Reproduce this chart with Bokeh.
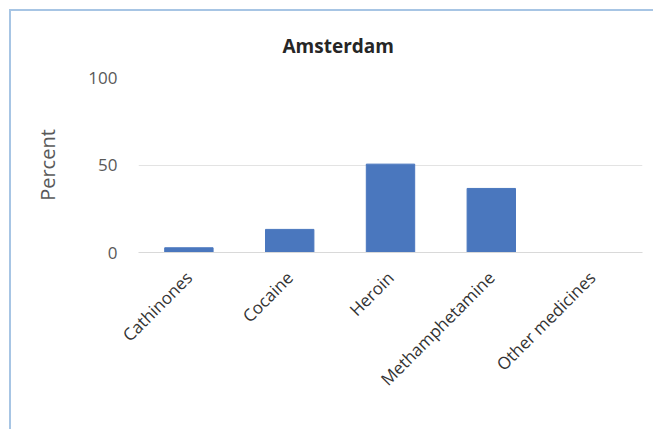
import math
from bokeh.plotting import figure
from bokeh.models import FixedTicker, ColumnDataSource
from bokeh.embed import file_html
from bokeh.resources import INLINE

categories = ["Cathinones", "Cocaine", "Heroin", "Methamphetamine", "Other medicines"]
percent = [2.7, 13.2, 50.5, 36.6, 0.0]
y_ticks = [0, 50, 100]

FONT = "Open Sans"
src = ColumnDataSource(data=dict(cat=categories, val=percent))

p = figure(x_range=categories, y_range=(0, 100), width=644, height=420,
           output_backend="svg", toolbar_location=None,
           min_border_left=127, min_border_right=13, min_border_top=66, min_border_bottom=179)
p.margin = (9, 0, 0, 9)
p.styles = {"border-left": "2px solid #a7c5e4", "border-top": "2px solid #a7c5e4"}

p.vbar(x="cat", top="val", width=0.48, source=src, color="#4a77be")

p.title.text = "Amsterdam"
p.title.align = "left"
p.title.offset = 144
p.title.text_font = FONT
p.title.text_font_size = "19px"
p.title.text_font_style = "bold"
p.title.text_color = "#262626"
p.title.standoff = 37

p.outline_line_color = None
p.xgrid.grid_line_color = None
p.ygrid.grid_line_color = "#e3e3e3"
p.ygrid.grid_line_width = 1

p.yaxis.ticker = FixedTicker(ticks=y_ticks)
p.yaxis.axis_line_color = None
p.yaxis.major_tick_line_color = None
p.yaxis.minor_tick_line_color = None
p.yaxis.major_label_standoff = 15
p.yaxis.major_label_text_font = FONT
p.yaxis.major_label_text_font_size = "17px"
p.yaxis.major_label_text_color = "#595959"
p.yaxis.axis_label = "Percent"
p.yaxis.axis_label_text_font = FONT
p.yaxis.axis_label_text_font_size = "20px"
p.yaxis.axis_label_text_font_style = "normal"
p.yaxis.axis_label_text_color = "#595959"
p.yaxis.axis_label_standoff = 24

p.xaxis.axis_line_color = "#d9d9d9"
p.xaxis.major_tick_line_color = None
p.xaxis.minor_tick_line_color = None
p.xaxis.major_label_orientation = math.pi / 4
p.xaxis.major_label_standoff = 16
p.xaxis.major_label_text_font = FONT
p.xaxis.major_label_text_font_size = "17px"
p.xaxis.major_label_text_color = "#333333"

p.x_range.range_padding = 0
p.x_range.factor_padding = 0

open("out.html", "w").write(file_html(p, INLINE))
